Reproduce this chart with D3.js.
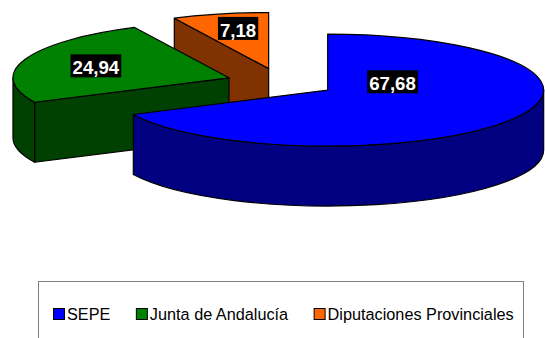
<!DOCTYPE html>
<html>
<head>
<meta charset="utf-8">
<script src="https://cdn.jsdelivr.net/npm/d3@7"></script>
<style>
  html, body { margin: 0; padding: 0; background: #fff; }
  svg { display: block; }
</style>
</head>
<body>
<script>
// Financing share by funding body (%)
const categories = ["SEPE", "Junta de Andalucía", "Diputaciones Provinciales"];
const values = [67.68, 24.94, 7.18];

// Face colours: top faces and darker extruded sides
const topColors = ["#0000FF", "#008000", "#FF6600"];
const sideColors = ["#000080", "#004000", "#803300"];

const W = 545, H = 338;
// Projected 3D pie: ellipse radii, extrusion depth and explode fraction
const geo = { cx: 281, cy: 82.5, rx: 216, ry: 56, depth: 60, explode: 0.255 };
// Extra label displacement per slice (pixels)
const labelNudge = [[-54.5, -27.7], [0, 0], [1, -4.6]];

const fmt = d3.formatLocale({ decimal: ",", thousands: ".", grouping: [3], currency: ["", "€"] }).format(".2f");

const svg = d3.select("body").append("svg").attr("width", W).attr("height", H);

const pie = d3.pie().sort(null).value(d => d)(values);

const sx = a => Math.sin(a), sy = a => -Math.cos(a);

const slices = pie.map((p, i) => {
  const mid = (p.startAngle + p.endAngle) / 2;
  const c = {
    x: geo.cx + geo.explode * geo.rx * sx(mid),
    y: geo.cy + geo.explode * geo.ry * sy(mid)
  };
  return { p, i, mid, c };
});

function pt(c, a, dz = 0) {
  return [c.x + geo.rx * sx(a), c.y + geo.ry * sy(a) + dz];
}
function topPath(c, a0, a1) {
  const p0 = pt(c, a0), p1 = pt(c, a1);
  const large = (a1 - a0) > Math.PI ? 1 : 0;
  return `M${c.x},${c.y}L${p0}A${geo.rx},${geo.ry} 0 ${large} 1 ${p1}Z`;
}
function wallPath(c, a0, a1) {
  const b0 = Math.max(a0, Math.PI / 2), b1 = Math.min(a1, 3 * Math.PI / 2);
  if (b1 <= b0) return null;
  const large = (b1 - b0) > Math.PI ? 1 : 0;
  const t0 = pt(c, b0), t1 = pt(c, b1), d0 = pt(c, b0, geo.depth), d1 = pt(c, b1, geo.depth);
  return `M${t0}A${geo.rx},${geo.ry} 0 ${large} 1 ${t1}L${d1}A${geo.rx},${geo.ry} 0 ${large} 0 ${d0}Z`;
}
function sidePath(c, a) {
  const t = pt(c, a), d = pt(c, a, geo.depth);
  return `M${c.x},${c.y}L${t}L${d}L${c.x},${c.y + geo.depth}Z`;
}

const gPie = svg.append("g").attr("stroke", "#000").attr("stroke-width", 1.2).attr("stroke-linejoin", "round");

// paint back-to-front
slices.slice().sort((a, b) => a.c.y - b.c.y).forEach(s => {
  const g = gPie.append("g");
  const a0 = s.p.startAngle, a1 = s.p.endAngle;
  const faces = [];
  // a cut face is drawn only when its normal points toward the viewer
  if (a0 > Math.PI && a0 < 2 * Math.PI) faces.push(sidePath(s.c, a0));
  if (a1 > 0 && a1 < Math.PI) faces.push(sidePath(s.c, a1));
  const wall = wallPath(s.c, a0, a1);
  if (wall) faces.push(wall);
  faces.forEach(d => g.append("path").attr("d", d).attr("fill", sideColors[s.i]));
  g.append("path").attr("d", topPath(s.c, a0, a1)).attr("fill", topColors[s.i]);
});

// value labels
const gLab = svg.append("g");
slices.forEach(s => {
  const lx = s.c.x + 0.652 * geo.rx * sx(s.mid) + labelNudge[s.i][0];
  const ly = s.c.y + 0.652 * geo.ry * sy(s.mid) + labelNudge[s.i][1];
  const g = gLab.append("g");
  const box = g.append("rect").attr("fill", "#000");
  const t = g.append("text")
    .attr("x", lx).attr("y", ly + 8.5)
    .attr("text-anchor", "middle")
    .attr("font-family", "'Liberation Sans', Arial, sans-serif")
    .attr("font-weight", "bold")
    .attr("font-size", "18.67px")
    .attr("fill", "#fff")
    .text(fmt(values[s.i]));
  const w = t.node().getComputedTextLength() + 4;
  box.attr("x", lx - w / 2).attr("y", ly - 11.5).attr("width", w).attr("height", 23);
});

// legend
const leg = svg.append("g");
leg.append("rect").attr("x", 38.5).attr("y", 281.5).attr("width", 485).attr("height", 80)
  .attr("fill", "#fff").attr("stroke", "#808080").attr("stroke-width", 1);
let x = 53;
categories.forEach((name, i) => {
  leg.append("rect").attr("x", x + 0.5).attr("y", 308.5).attr("width", 11).attr("height", 11)
    .attr("fill", topColors[i]).attr("stroke", "#000").attr("stroke-width", 1);
  const t = leg.append("text").attr("x", x + 14).attr("y", 320)
    .attr("font-family", "'Liberation Sans', Arial, sans-serif")
    .attr("font-size", "16.25px").attr("fill", "#000").text(name);
  x += 14 + t.node().getComputedTextLength() + 25.5;
});
</script>
</body>
</html>
